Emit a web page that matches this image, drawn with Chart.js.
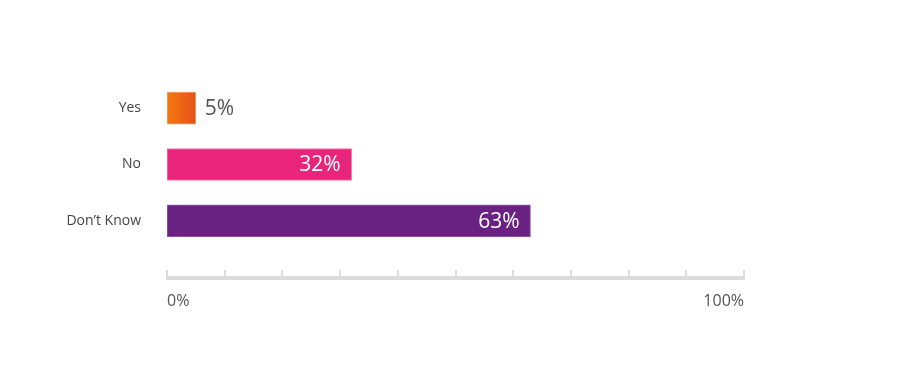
<!DOCTYPE html>
<html>
<head>
<meta charset="utf-8">
<script src="https://cdn.jsdelivr.net/npm/chart.js@4.4.1/dist/chart.umd.min.js"></script>
<style>
  html, body { margin: 0; padding: 0; background: #ffffff; }
  #wrap { width: 900px; height: 381px; position: relative; }
</style>
</head>
<body>
<div id="wrap"><canvas id="c" width="900" height="381"></canvas></div>
<script>
const categories = ["Yes", "No", "Don\u2019t Know"];
const values = [5, 32, 63];
const barColors = ["#ee6a12", "#e8257a", "#692282"];
const barBorders = ["#f5a070", "#f07aa8", "#9a64ad"];
const axisTicks = [0, 10, 20, 30, 40, 50, 60, 70, 80, 90, 100];
const axisLabels = { 0: "0%", 100: "100%" };

const FONT = "'Open Sans', 'Segoe UI', sans-serif";

const axisPlugin = {
  id: 'axisLine',
  afterDraw(chart) {
    const ctx = chart.ctx;
    const x = chart.scales.x;
    const yLine = x.top + 27;
    const x0 = x.getPixelForValue(0);
    const x1 = x.getPixelForValue(100);
    ctx.save();
    ctx.fillStyle = '#dcdcdc';
    ctx.fillRect(x0 - 1, yLine, x1 - x0 + 2, 4);
    axisTicks.forEach(v => {
      const px = x.getPixelForValue(v);
      ctx.fillRect(Math.round(px) - 1, yLine - 6, 2, 6);
    });
    ctx.restore();
  }
};

const labelPlugin = {
  id: 'barLabels',
  afterDatasetsDraw(chart) {
    const ctx = chart.ctx;
    const meta = chart.getDatasetMeta(0);
    ctx.save();
    ctx.font = "21px " + FONT;
    ctx.textBaseline = 'middle';
    meta.data.forEach((bar, i) => {
      const v = values[i];
      const txt = v + '%';
      if (v < 10) {
        ctx.fillStyle = '#555555';
        ctx.textAlign = 'left';
        ctx.fillText(txt, bar.x + 9, bar.y + 1);
      } else {
        ctx.fillStyle = '#ffffff';
        ctx.textAlign = 'right';
        ctx.fillText(txt, bar.x - 11, bar.y + 1);
      }
    });
    ctx.restore();
  }
};

new Chart(document.getElementById('c'), {
  type: 'bar',
  data: {
    labels: categories,
    datasets: [{
      data: values,
      backgroundColor: (c) => {
        const i = c.dataIndex;
        if (i === 0 && c.chart.chartArea) {
          const xs = c.chart.scales.x;
          const left = xs.getPixelForValue(0);
          const right = xs.getPixelForValue(values[0]);
          const g = c.chart.ctx.createLinearGradient(left, 0, right, 0);
          g.addColorStop(0, '#f27a0e');
          g.addColorStop(1, '#e65119');
          return g;
        }
        return barColors[i];
      },
      borderColor: barBorders,
      borderWidth: 1,
      borderSkipped: false,
      barThickness: 32
    }]
  },
  options: {
    indexAxis: 'y',
    responsive: false,
    animation: false,
    devicePixelRatio: 1,
    layout: { padding: { top: 80, right: 156, left: 0, bottom: 0 } },
    plugins: { legend: { display: false }, tooltip: { enabled: false } },
    scales: {
      x: {
        min: 0, max: 100,
        grid: { display: false },
        border: { display: false },
        afterFit: (s) => { s.height = 132; },
        afterBuildTicks: (s) => { s.ticks = [{ value: 0 }, { value: 100 }]; },
        ticks: {
          align: 'inner',
          padding: 35,
          color: '#555555',
          font: { family: FONT, size: 16 },
          maxRotation: 0,
          autoSkip: false,
          callback: (v) => axisLabels[v] || ''
        }
      },
      y: {
        grid: { display: false },
        border: { display: false },
        afterFit: (s) => { s.width = 167; },
        ticks: {
          padding: 18,
          color: '#444444',
          font: { family: FONT, size: 14 }
        }
      }
    }
  },
  plugins: [axisPlugin, labelPlugin]
});
</script>
</body>
</html>
